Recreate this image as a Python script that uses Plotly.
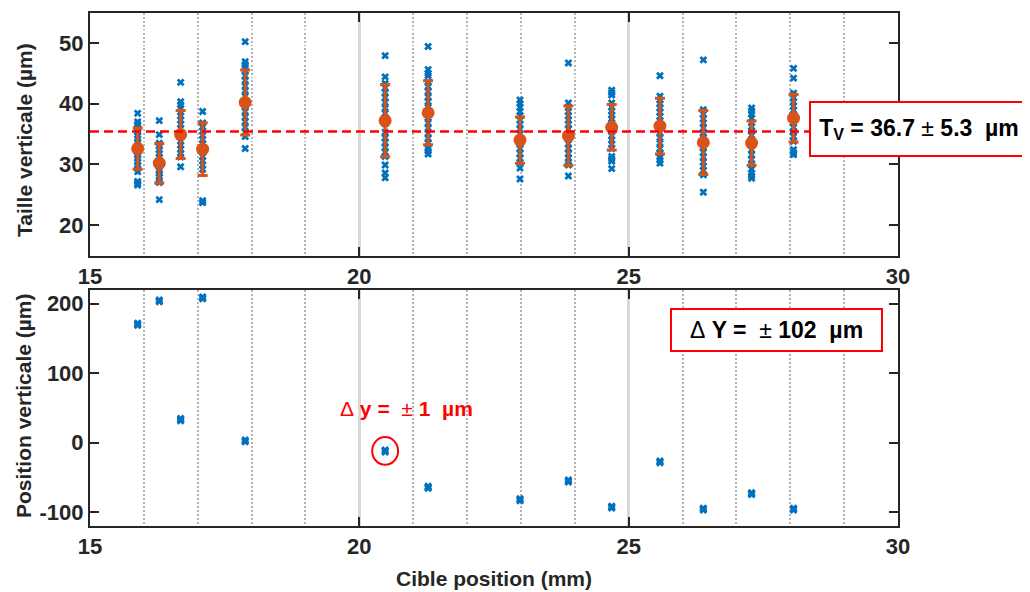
import plotly.graph_objects as go

# ---------------- data ----------------
CIBLE_X = [15.885, 16.286, 16.683, 17.091, 17.881, 20.479, 21.277,
           22.983, 23.881, 24.685, 25.581, 26.386, 27.282, 28.061]

TAILLE = [
    [38.4, 37.0, 36.6, 36.0, 35.3, 34.8, 34.2, 33.7, 33.1, 32.6, 32.0, 31.5, 31.0, 30.4, 29.9, 29.3, 28.8, 27.2, 26.9, 26.6],
    [37.2, 34.9, 33.5, 33.0, 32.4, 31.8, 31.2, 30.7, 30.1, 29.6, 29.0, 28.5, 28.0, 27.4, 27.0, 24.2],
    [43.5, 40.3, 39.8, 39.2, 38.6, 38.0, 37.3, 36.6, 35.9, 35.2, 34.5, 33.8, 33.2, 32.5, 31.8, 31.2, 29.6],
    [38.7, 36.8, 36.2, 35.5, 34.8, 34.1, 33.4, 32.7, 32.0, 31.3, 30.6, 29.9, 29.2, 24.0, 23.7],
    [50.2, 46.9, 46.4, 46.0, 45.4, 44.6, 43.8, 42.9, 42.1, 41.2, 40.4, 39.5, 38.7, 37.8, 37.0, 36.1, 35.3, 34.6, 32.6],
    [47.9, 44.4, 43.3, 42.6, 41.8, 41.0, 40.2, 39.3, 38.4, 37.6, 36.7, 35.3, 34.4, 33.6, 32.8, 32.0, 31.3, 29.9, 28.6, 27.8],
    [49.4, 45.6, 45.0, 44.6, 43.6, 42.8, 42.0, 41.1, 40.3, 39.4, 38.6, 37.7, 36.8, 36.0, 35.1, 34.3, 33.5, 32.6, 32.2, 31.7],
    [40.6, 40.0, 39.4, 38.7, 38.0, 37.3, 36.6, 35.8, 35.0, 34.2, 33.4, 32.6, 31.8, 31.0, 30.3, 29.4, 27.6],
    [46.7, 40.1, 39.4, 38.7, 38.0, 37.3, 36.6, 35.8, 35.0, 34.2, 33.4, 32.6, 31.8, 31.0, 30.4, 29.9, 28.1],
    [42.2, 41.8, 41.4, 40.1, 39.4, 38.8, 38.1, 37.5, 36.8, 36.1, 35.4, 34.7, 34.0, 33.3, 32.6, 31.3, 30.9, 30.5, 29.3],
    [44.6, 41.2, 40.6, 40.0, 39.3, 38.6, 37.9, 37.2, 36.5, 35.2, 34.4, 33.5, 32.6, 31.8, 31.2, 30.7, 30.2],
    [47.2, 39.0, 38.3, 37.5, 36.8, 36.0, 35.2, 34.4, 33.6, 32.8, 32.0, 31.2, 30.4, 29.7, 29.0, 28.3, 25.4],
    [39.3, 38.8, 38.3, 37.6, 36.9, 36.2, 35.5, 34.8, 34.0, 33.2, 32.4, 31.6, 30.8, 30.0, 29.2, 28.6, 28.1, 27.7],
    [45.8, 44.2, 41.7, 41.0, 40.3, 39.6, 38.9, 38.2, 37.5, 36.8, 36.1, 35.4, 34.6, 33.8, 32.4, 31.9, 31.6],
]
TAILLE_MEAN = [32.6, 30.2, 34.9, 32.5, 40.2, 37.2, 38.5, 34.0, 34.7, 36.1, 36.3, 33.6, 33.5, 37.6]
TAILLE_STD = [3.4, 3.25, 3.95, 4.35, 5.35, 5.95, 5.25, 3.8, 4.9, 3.75, 4.6, 5.25, 3.65, 3.9]
TAILLE_LINE = 35.4

POSITION = [
    [171.5, 170.0, 168.6], [205.2, 203.8, 202.6], [34.8, 33.0, 31.4], [209.4, 208.0, 206.7],
    [3.6, 2.2, 1.0], [-10.6, -12.0, -13.5], [-62.8, -64.2, -65.6], [-80.7, -82.2, -83.6],
    [-53.8, -55.2, -56.7], [-91.6, -92.9, -94.1], [-26.4, -27.8, -29.0], [-94.3, -95.6, -96.9],
    [-72.1, -73.4, -74.8], [-94.4, -95.7, -97.0],
]
HIGHLIGHT = 5  # index of the circled target

X_TICKS = [15, 20, 25, 30]
X_TICKTEXT = ["15", "20", "25", "30"]
Y1_TICKS = [20, 30, 40, 50]
Y1_TICKTEXT = ["20", "30", "40", "50"]
Y2_TICKS = [-100, 0, 100, 200]
Y2_TICKTEXT = ["-100", "0", "100", "200"]

# ---------------- style ----------------
BLUE = "#0072BD"
ORANGE = "#D95319"
FRAME = "#262626"
FONT = "Liberation Sans, Arial, sans-serif"
OFF = 8                      # page body margin
W, H = 1030 - OFF, 592 - OFF

def px_x(p):
    return (p - OFF) / W

def px_y(p):
    return 1 - (p - OFF) / H

fig = go.Figure()

for xc, pts in zip(CIBLE_X, TAILLE):
    fig.add_trace(go.Scatter(
        x=[xc] * len(pts), y=pts, mode="markers", xaxis="x", yaxis="y",
        marker=dict(symbol="x", size=7, color=BLUE, line=dict(width=0)),
        showlegend=False, hoverinfo="skip"))

fig.add_trace(go.Scatter(
    x=CIBLE_X, y=TAILLE_MEAN, mode="markers", xaxis="x", yaxis="y",
    marker=dict(symbol="circle", size=13, color=ORANGE),
    error_y=dict(type="data", array=TAILLE_STD, color=ORANGE, thickness=3, width=5),
    showlegend=False))

for xc, pts in zip(CIBLE_X, POSITION):
    fig.add_trace(go.Scatter(
        x=[xc] * len(pts), y=pts, mode="markers", xaxis="x2", yaxis="y2",
        marker=dict(symbol="x", size=7, color=BLUE, line=dict(width=0)),
        showlegend=False, hoverinfo="skip"))

axis_common = dict(
    showline=True, linecolor=FRAME, linewidth=2, mirror="ticks",
    ticks="inside", ticklen=9, tickwidth=2, tickcolor=FRAME,
    tickfont=dict(family=FONT, size=22, color=FRAME, weight="bold"),
    zeroline=False, automargin=False,
)

xaxis_common = dict(
    axis_common, range=[15, 30], tickvals=X_TICKS, ticktext=X_TICKTEXT,
    showgrid=True, gridcolor="#d9d9d9", gridwidth=2.5,
    minor=dict(dtick=1, showgrid=True, gridcolor="#b5b5b5", gridwidth=1.5, griddash="2px,2px", ticks=""),
)

fig.update_layout(
    width=W, height=H,
    margin=dict(l=0, r=0, t=0, b=0, autoexpand=False),
    paper_bgcolor="white", plot_bgcolor="white",
    xaxis=dict(xaxis_common, domain=[px_x(90), px_x(898)], anchor="y"),
    yaxis=dict(axis_common, domain=[px_y(255.5), px_y(12.5)], anchor="x",
               range=[15, 55], tickvals=Y1_TICKS, ticktext=Y1_TICKTEXT, showgrid=False),
    xaxis2=dict(xaxis_common, domain=[px_x(90), px_x(898)], anchor="y2"),
    yaxis2=dict(axis_common, domain=[px_y(526), px_y(289.6)], anchor="x2",
                range=[-120, 220], tickvals=Y2_TICKS, ticktext=Y2_TICKTEXT, showgrid=False),
)

fig.add_shape(type="line", xref="x domain", yref="y", x0=0, x1=1,
              y0=TAILLE_LINE, y1=TAILLE_LINE,
              line=dict(color="#ff0000", width=2.5, dash="9px,5px"))

hx = CIBLE_X[HIGHLIGHT]
hy = sum(POSITION[HIGHLIGHT]) / len(POSITION[HIGHLIGHT])
fig.add_shape(type="circle", xref="x2", yref="y2",
              x0=hx - 0.24, x1=hx + 0.24, y0=hy - 20, y1=hy + 20,
              line=dict(color="#ff0000", width=2))

NB = "\u00a0"
title_font = dict(family=FONT, size=21, color=FRAME, weight="bold")

annots = [
    dict(text="Taille verticale (µm)", x=px_x(24), y=px_y(140), textangle=-90),
    dict(text="Position verticale (µm)", x=px_x(24), y=px_y(406), textangle=-90),
    dict(text="Cible position (mm)", x=px_x(494), y=px_y(578)),
]
for a in annots:
    fig.add_annotation(xref="paper", yref="paper", showarrow=False,
                       xanchor="center", yanchor="middle", font=title_font, **a)

fig.add_annotation(
    xref="paper", yref="paper", x=px_x(919), y=px_y(129), showarrow=False,
    text=f"T<sub>V</sub> = 36.7 <span style='font-weight:normal'>±</span> 5.3{NB}{NB}µm",
    font=dict(family=FONT, size=23, color="black", weight="bold"),
    bgcolor="white", bordercolor="#ff0000", borderwidth=2, borderpad=2,
    width=212, height=48, xanchor="center", yanchor="middle")

fig.add_annotation(
    xref="paper", yref="paper", x=px_x(776.5), y=px_y(330), showarrow=False,
    text=f"<span style='font-weight:normal'>Δ</span> Y ={NB}{NB}<span style='font-weight:normal'>±</span> 102{NB}{NB}µm",
    font=dict(family=FONT, size=23, color="black", weight="bold"),
    bgcolor="white", bordercolor="#ff0000", borderwidth=2, borderpad=2,
    width=205, height=36, xanchor="center", yanchor="middle")

fig.add_annotation(
    xref="paper", yref="paper", x=px_x(406), y=px_y(408), showarrow=False,
    text=f"<span style='font-weight:normal'>Δ</span> y ={NB}{NB}<span style='font-weight:normal'>±</span> 1{NB}{NB}µm",
    font=dict(family=FONT, size=21, color="#ff0000", weight="bold"),
    xanchor="center", yanchor="middle")

fig.write_html("out.html")
